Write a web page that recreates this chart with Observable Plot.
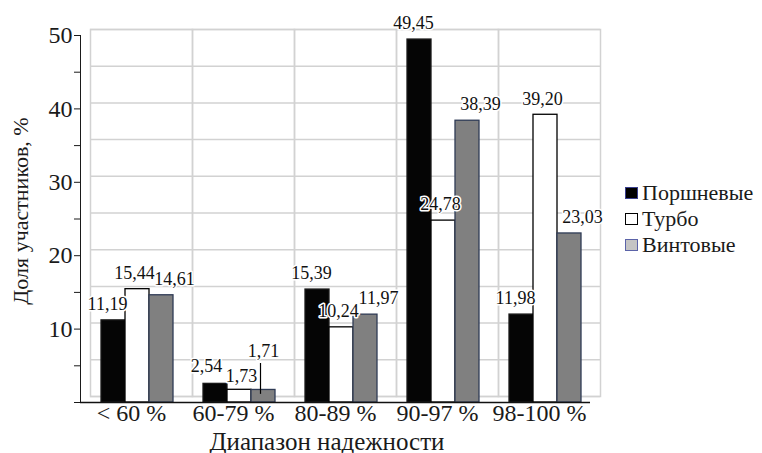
<!DOCTYPE html>
<html><head><meta charset="utf-8">
<script src="https://cdn.jsdelivr.net/npm/d3@7"></script>
<script src="https://cdn.jsdelivr.net/npm/@observablehq/plot@0.6"></script>
<style>
body{margin:0;background:#fff;font-family:"Times New Roman","Liberation Serif","DejaVu Serif",serif;color:#1a1a1a;}
#wrap{position:relative;width:762px;height:453px;overflow:hidden;}
.ttl{position:absolute;white-space:nowrap;line-height:1;}
#ytitle{left:21px;top:211px;font-size:22px;transform:translate(-50%,-50%) rotate(-90deg);}
#xtitle{left:327px;top:441px;font-size:25px;transform:translate(-50%,-50%);}
#legend{position:absolute;left:625px;top:180px;font-size:22px;line-height:26px;}
#legend .row{display:flex;align-items:center;}
#legend .sw{width:13px;height:12px;margin-right:4px;box-sizing:border-box;}
</style></head><body>
<div id="wrap"></div>
<script>
const categories = ["< 60 %", "60-79 %", "80-89 %", "90-97 %", "98-100 %"];
const series = ["Поршневые", "Турбо", "Винтовые"];
const piston = [11.19, 2.54, 15.39, 49.45, 11.98];
const turbo  = [15.44, 1.73, 10.24, 24.78, 39.20];
const screw  = [14.61, 1.71, 11.97, 38.39, 23.03];
const yTicks = [0, 5, 10, 15, 20, 25, 30, 35, 40, 45, 50];
const yLabels = [10, 20, 30, 40, 50];
const xTitle = "Диапазон надежности";
const yTitle = "Доля участников, %";

const FONT = '"Times New Roman", "Liberation Serif", "DejaVu Serif", serif';
const fills = ["#050505", "#ffffff", "#808080"];
const strokes = ["#1a1a1a", "#000000", "#2f3b55"];
const labelShift = [-6, -3, 13];
const crowdShift = [-9, 2, 0];
const legendFills = ["#000000", "#ffffff", "#c4c4c4"];
const legendStrokes = ["#3a3f8f", "#000000", "#5b63a8"];

const valuesBySeries = [piston, turbo, screw];
const data = categories.flatMap((c, i) => series.map((s, k) => ({category: c, series: s, value: valuesBySeries[k][i]})));
const fmt = v => d3.format(".2f")(v).replace(".", ",");
// a category is "crowded" when all its bars are tiny, so labels are staggered
const crowded = new Set(categories.filter((c, i) => valuesBySeries.every(v => v[i] < 5)));
const BX = 6;

const labelMarks = series.flatMap((s, k) => {
  const normal = data.filter(d => d.series === s && !crowded.has(d.category));
  const crowd = data.filter(d => d.series === s && crowded.has(d.category));
  const common = {fx: "category", x: "series", y: "value", text: d => fmt(d.value),
    fontSize: 18, fill: "#111", stroke: "white", strokeWidth: 3};
  const marks = [
    Plot.text(normal, {...common, dy: -16, dx: BX + labelShift[k]})
  ];
  if (k === 2) {
    marks.push(Plot.ruleX(crowd, {fx: "category", x: "series", y1: d => d.value - 0.6, y2: d => d.value + 3.6, dx: BX - 3, stroke: "#000", strokeWidth: 1.2}));
    marks.push(Plot.text(crowd, {...common, dy: -39, dx: BX + crowdShift[k]}));
  } else {
    marks.push(Plot.text(crowd, {...common, dy: k === 1 ? -14 : -18, dx: BX + crowdShift[k]}));
  }
  return marks;
});

const plot = Plot.plot({
  width: 762,
  height: 453,
  marginLeft: 80,
  marginRight: 172,
  marginTop: 35,
  marginBottom: 51,
  style: {fontFamily: FONT, fontSize: "24px", color: "#1a1a1a", background: "white", overflow: "visible"},
  fx: {domain: categories, padding: 0, label: null, tickSize: 0, tickPadding: 1},
  x: {domain: series, paddingInner: 0, paddingOuter: 0.625, axis: null},
  y: {domain: [0, 50], ticks: yTicks, tickFormat: d => yLabels.includes(d) ? d : "", tickSize: 6, tickPadding: 2, line: true, label: null},
  marks: [
    Plot.frame({stroke: "#d2d2d2", strokeWidth: 1.5, dx: 10, dy: -6}),
    Plot.ruleY(yTicks, {stroke: "#d2d2d2", strokeWidth: 1.5, dx: 10, dy: -6}),
    ...series.map((s, k) => Plot.barY(data.filter(d => d.series === s), {
      fx: "category", x: "series", y: "value", dx: BX,
      fill: fills[k], stroke: strokes[k], strokeWidth: 1.3
    })),
    Plot.ruleY([0], {stroke: "#111", strokeWidth: 1.5}),
    ...labelMarks
  ]
});
const wrap = document.getElementById("wrap");
wrap.appendChild(plot);

const yt = document.createElement("div"); yt.className = "ttl"; yt.id = "ytitle"; yt.textContent = yTitle; wrap.appendChild(yt);
const xt = document.createElement("div"); xt.className = "ttl"; xt.id = "xtitle"; xt.textContent = xTitle; wrap.appendChild(xt);
const lg = document.createElement("div"); lg.id = "legend";
series.forEach((s, k) => {
  const row = document.createElement("div"); row.className = "row";
  const sw = document.createElement("div"); sw.className = "sw";
  sw.style.background = legendFills[k]; sw.style.border = `1.5px solid ${legendStrokes[k]}`;
  const t = document.createElement("span"); t.textContent = s;
  row.appendChild(sw); row.appendChild(t); lg.appendChild(row);
});
wrap.appendChild(lg);
</script>
</body></html>
